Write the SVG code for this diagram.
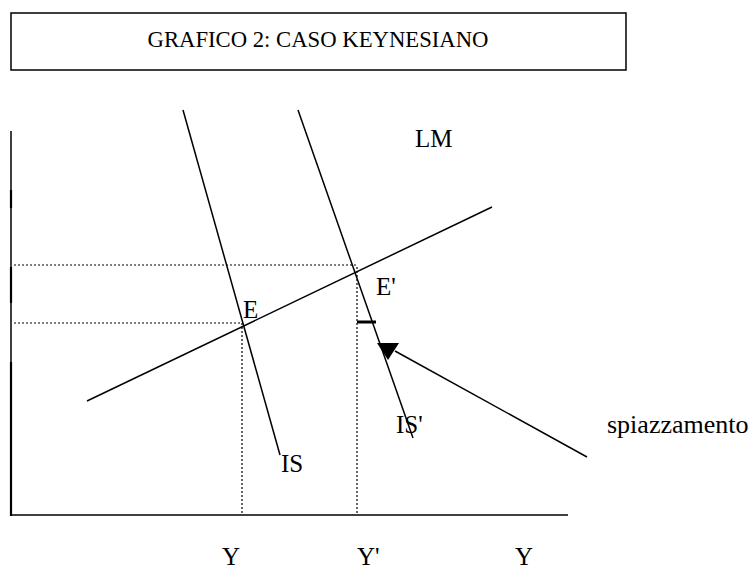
<svg xmlns="http://www.w3.org/2000/svg" width="752" height="569" viewBox="0 0 752 569">
<style>
text{font-family:"Liberation Serif","Times New Roman",serif;font-size:25px;fill:#000}
.ln{stroke:#000;stroke-width:1.5;fill:none}
.dot{stroke:#000;stroke-width:1.2;stroke-dasharray:2 2;fill:none}
</style>
<rect width="752" height="569" fill="#fff"/>
<g id="title">
<rect x="11" y="13" width="615" height="57" fill="#fff" stroke="#000" stroke-width="1.5"/>
<text x="318" y="47" text-anchor="middle" style="font-size:22.7px">GRAFICO 2: CASO KEYNESIANO</text>
</g>
<g id="axes">
<line class="ln" x1="11" y1="131" x2="11" y2="516"/>
<line x1="11" y1="190" x2="11" y2="208" stroke="#000" stroke-width="2.2"/>
<line x1="11" y1="267" x2="11" y2="303" stroke="#000" stroke-width="2.2"/>
<line x1="11" y1="362" x2="11" y2="516" stroke="#000" stroke-width="2.2"/>
<line class="ln" x1="10" y1="515" x2="568" y2="515"/>
</g>
<g id="guides">
<line class="dot" x1="14" y1="265" x2="356" y2="265"/>
<line class="dot" x1="14" y1="323" x2="242" y2="323"/>
<line class="dot" x1="242" y1="323" x2="242" y2="515"/>
<line class="dot" x1="357" y1="267" x2="357" y2="515"/>
</g>
<g id="connectors">
<line id="IS" class="ln" x1="183" y1="110" x2="280" y2="455"/>
<line id="ISp" class="ln" x1="298" y1="110" x2="413" y2="438"/>
<line id="LM" class="ln" x1="87" y1="401" x2="492" y2="207"/>
<line x1="357" y1="322" x2="376" y2="322" stroke="#000" stroke-width="3"/>
<line id="shift" class="ln" x1="395" y1="351" x2="587" y2="457"/>
<polygon points="377,343 399,343 388,360" fill="#000"/>
</g>
<g id="labels">
<text x="415" y="147">LM</text>
<text x="376" y="295">E'</text>
<text x="243" y="318">E</text>
<text x="281" y="472">IS</text>
<text x="396" y="433">IS'</text>
<text x="607" y="433" style="font-size:26px">spiazzamento</text>
<text x="222" y="565">Y</text>
<text x="357" y="565">Y'</text>
<text x="515" y="565">Y</text>
</g>
</svg>
